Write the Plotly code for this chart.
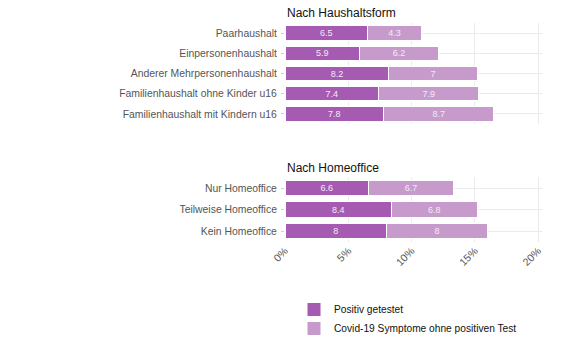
import plotly.graph_objects as go

haushalt_cats = ["Paarhaushalt", "Einpersonenhaushalt", "Anderer Mehrpersonenhaushalt",
                 "Familienhaushalt ohne Kinder u16", "Familienhaushalt mit Kindern u16"]
haushalt_pos = [6.5, 5.9, 8.2, 7.4, 7.8]
haushalt_sym = [4.3, 6.2, 7.0, 7.9, 8.7]

home_cats = ["Nur Homeoffice", "Teilweise Homeoffice", "Kein Homeoffice"]
home_pos = [6.6, 8.4, 8.0]
home_sym = [6.7, 6.8, 8.0]

series_names = ["Positiv getestet", "Covid-19 Symptome ohne positiven Test"]
colors = ["#A55BB1", "#C69BCC"]
x_ticks = [0, 5, 10, 15, 20]
x_ticklabels = ["0%", "5%", "10%", "15%", "20%"]

FONT = "Liberation Sans, Arial, sans-serif"

fig = go.Figure()

def add_bars(cats, vals, color, xa, ya):
    fig.add_trace(go.Bar(
        y=cats, x=vals, orientation="h", xaxis=xa, yaxis=ya,
        marker=dict(color=color, line=dict(color="white", width=1.2)),
        width=0.72,
        text=[f"{v:g}" for v in vals], textposition="inside", textangle=0,
        insidetextanchor="middle", constraintext="none",
        textfont=dict(color="#F3EAF5", size=9, family=FONT),
        showlegend=False, hoverinfo="skip",
    ))

add_bars(haushalt_cats, haushalt_pos, colors[0], "x", "y")
add_bars(haushalt_cats, haushalt_sym, colors[1], "x", "y")
add_bars(home_cats, home_pos, colors[0], "x2", "y2")
add_bars(home_cats, home_sym, colors[1], "x2", "y2")

# legend entries
for name, c in zip(series_names, colors):
    fig.add_trace(go.Scatter(
        x=[None], y=[None], mode="markers", name=name, xaxis="x2", yaxis="y2",
        marker=dict(symbol="square", size=14, color=c, line=dict(color="white", width=1)),
    ))

W, H = 582, 358
xl, xr = 285, 541.7
dom_x = [xl / W, xr / W]
xrange = [0, 20.28]

grid = "#EBEBEB"
xaxis_common = dict(domain=dom_x, range=xrange, tickvals=x_ticks, showgrid=True,
                    gridcolor=grid, gridwidth=1, zeroline=False, showline=False,
                    fixedrange=True, automargin=False)
yaxis_common = dict(showgrid=True, gridcolor=grid, gridwidth=1, zeroline=False,
                    showline=False, ticks="outside", ticklen=3, tickcolor="#CCCCCC",
                    tickfont=dict(size=10.4, color="#555555", family=FONT),
                    autorange="reversed", ticklabelstandoff=2, automargin=False,
                    fixedrange=True)

fig.update_layout(
    width=W, height=H, margin=dict(l=0, r=0, t=0, b=0),
    plot_bgcolor="white", paper_bgcolor="white",
    barmode="stack", bargap=0.3,
    font=dict(family=FONT),
    xaxis=dict(**xaxis_common, anchor="y", showticklabels=False),
    yaxis=dict(**yaxis_common, domain=[1 - 124 / H, 1 - 23 / H], anchor="x",
               categoryorder="array", categoryarray=haushalt_cats),
    xaxis2=dict(**xaxis_common, anchor="y2", ticktext=x_ticklabels, tickangle=-45,
                tickfont=dict(size=10.5, color="#555555", family=FONT)),
    yaxis2=dict(**yaxis_common, domain=[1 - 241.75 / H, 1 - 177.25 / H], anchor="x2",
                categoryorder="array", categoryarray=home_cats),
    legend=dict(x=294 / W, y=1 - 295 / H, xanchor="left", yanchor="top",
                font=dict(size=10.2, color="#111111", family=FONT), traceorder="normal",
                tracegroupgap=0, itemsizing="trace", bgcolor="rgba(0,0,0,0)"),
    annotations=[
        dict(text="Nach Haushaltsform", x=xl / W, y=1 - 13 / H, xref="paper", yref="paper",
             xanchor="left", yanchor="middle", showarrow=False,
             font=dict(size=12, color="#111111", family=FONT)),
        dict(text="Nach Homeoffice", x=xl / W, y=1 - 168 / H, xref="paper", yref="paper",
             xanchor="left", yanchor="middle", showarrow=False,
             font=dict(size=12, color="#111111", family=FONT)),
    ],
)

fig.write_html("out.html", config={"displayModeBar": False},
               post_script="document.body.style.margin='0';")
